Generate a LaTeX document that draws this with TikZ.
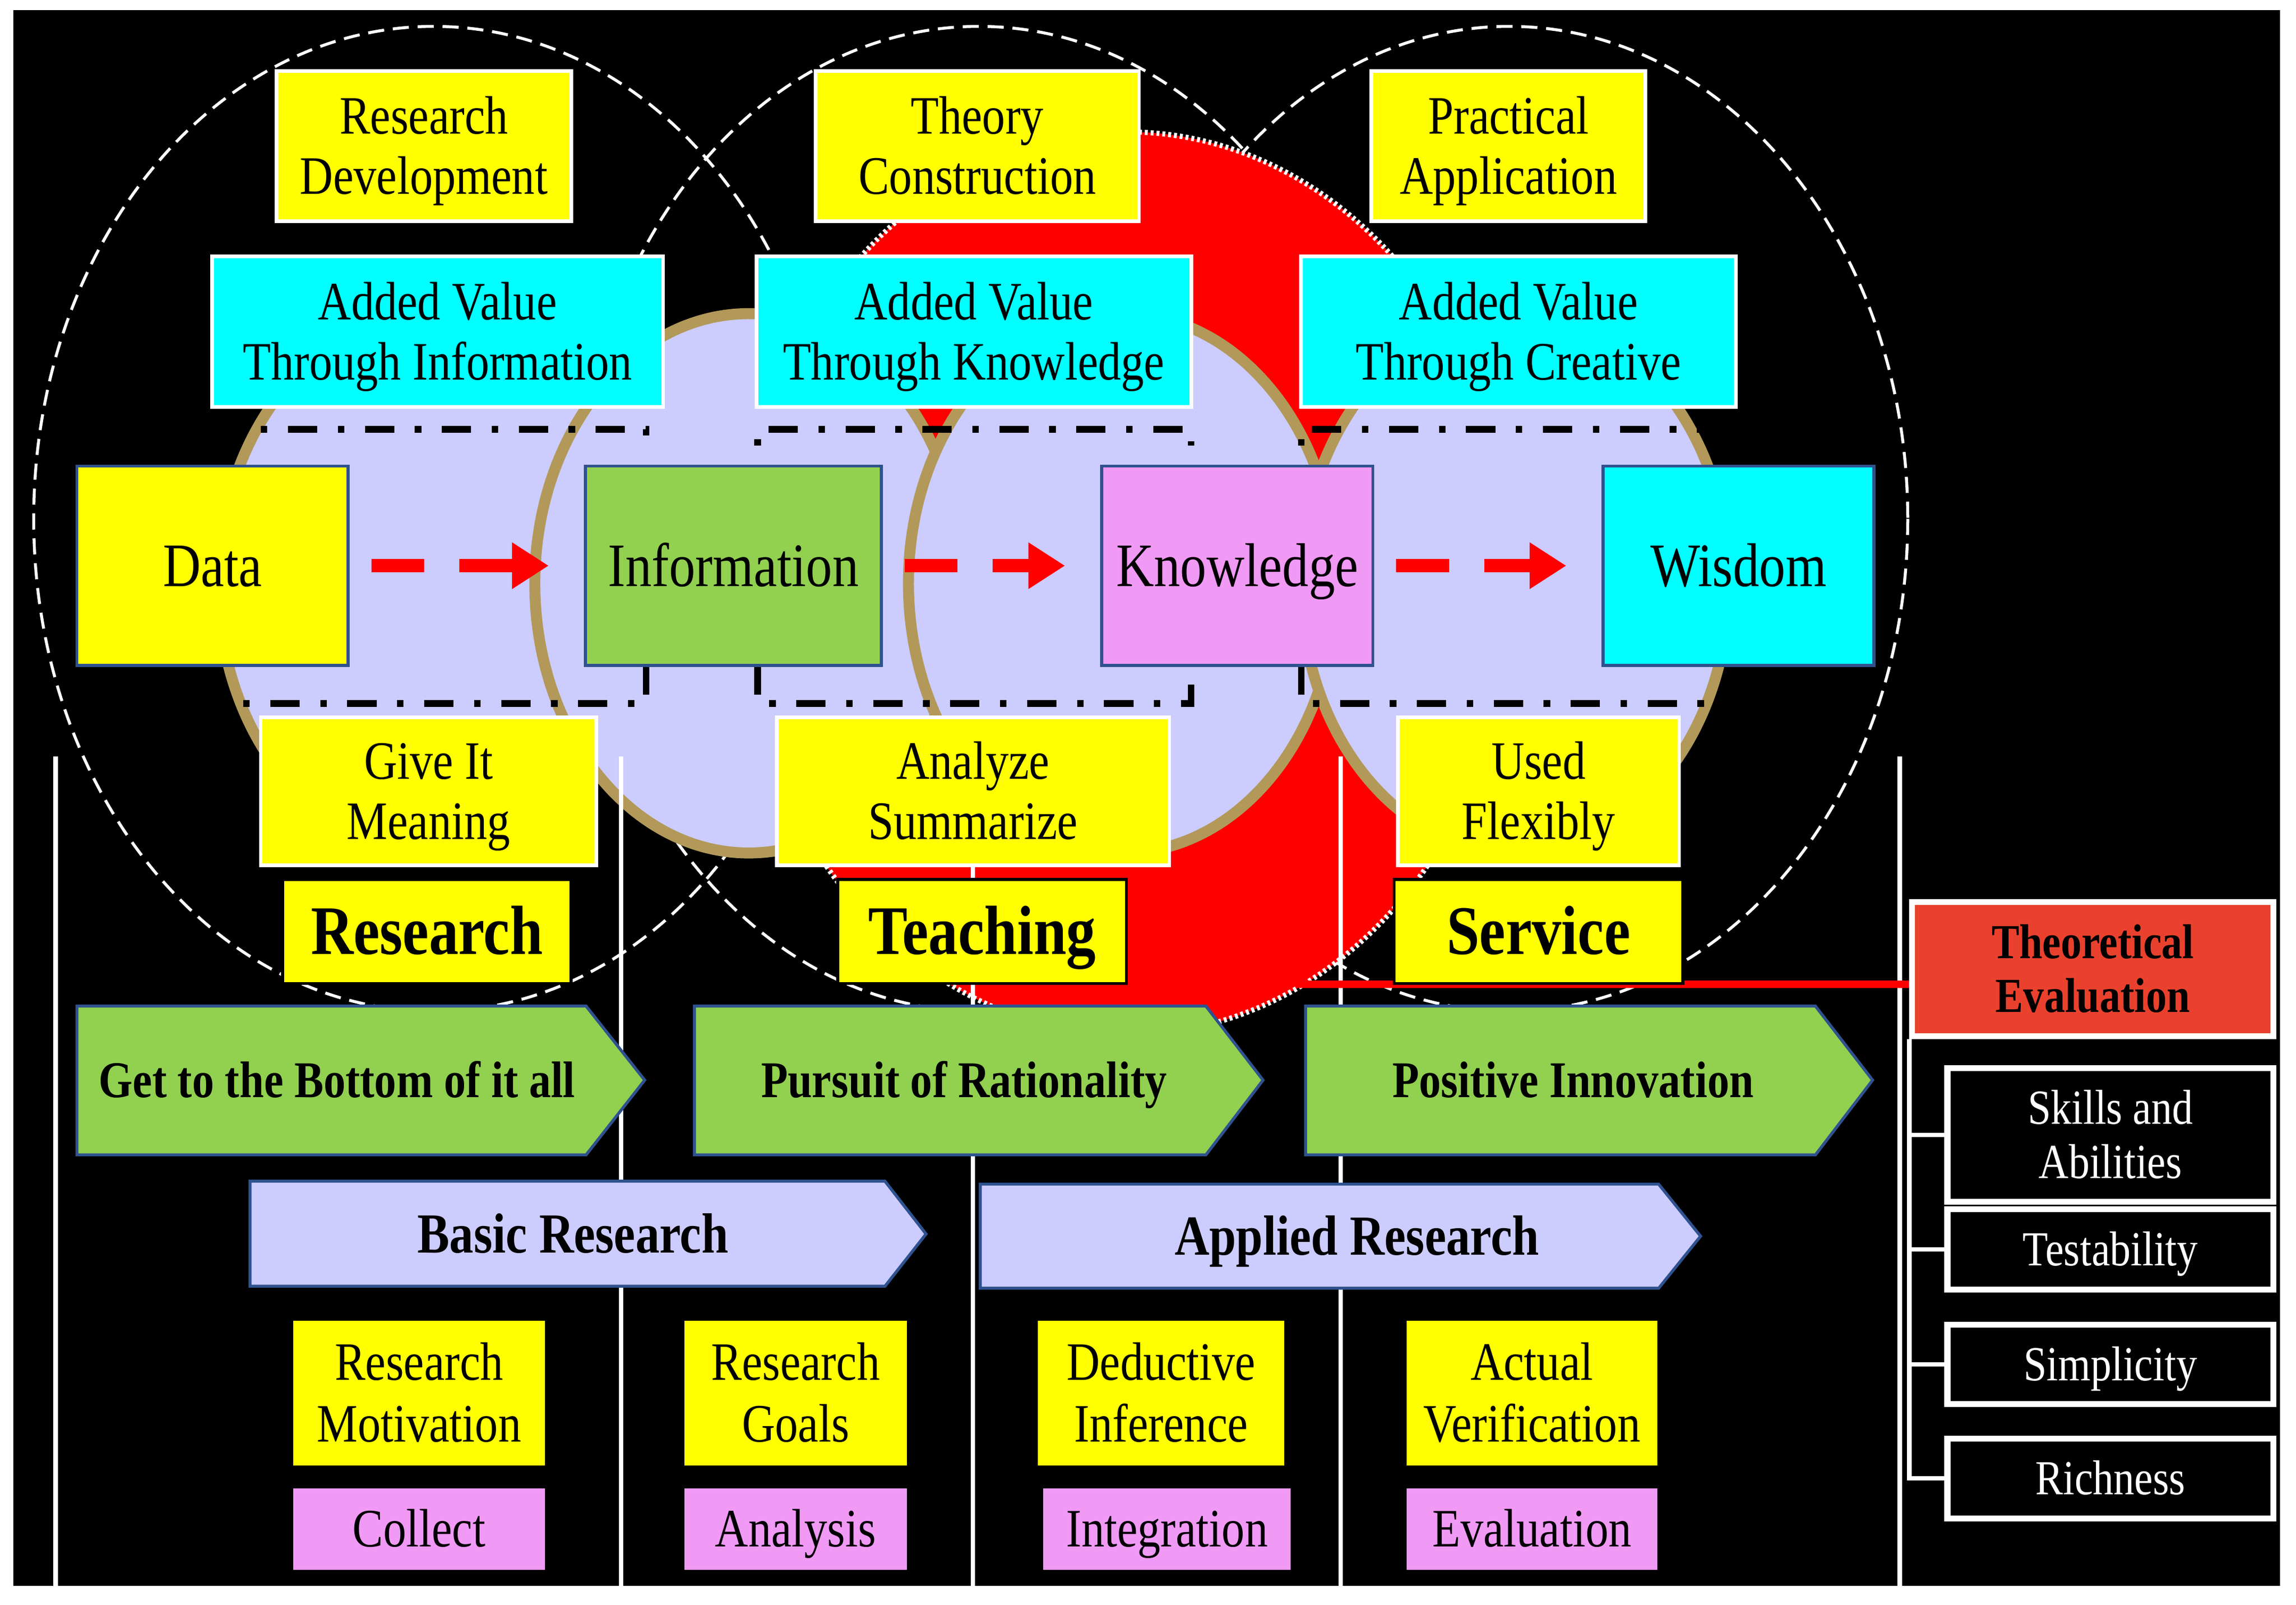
\documentclass[tikz,border=0pt]{standalone}
\usepackage{fontspec}
\setmainfont{Liberation Serif}[FakeStretch=0.85]
\usetikzlibrary{arrows.meta}

\begin{document}
\begin{tikzpicture}
		[x=0.1mm,y=-0.1mm,
		%Styles
		white box/.style={draw=white,line width=0.25mm,inner sep=0pt,align=center,text height=18.65pt,text depth=0pt,font=\fontsize{10.5}{11.7}\selectfont},
		chain node/.style={draw=boxblue,line width=0.2mm,inner sep=0pt,minimum width=18.5mm,minimum height=13.6mm,text height=7.94pt,text depth=0pt,font=\fontsize{12}{14}\selectfont},
		role box/.style={draw=black,fill=lemon,line width=0.2mm,inner sep=0pt,minimum width=19.7mm,minimum height=7.1mm,text height=8.94pt,text depth=0pt,font=\fontsize{13.5}{15}\selectfont\bfseries},
		plain box/.style={inner sep=0pt,align=center,text height=18.85pt,text depth=0pt,font=\fontsize{10.5}{11.9}\selectfont},
		tag box/.style={inner sep=0pt,fill=orchid,minimum height=5.55mm,text height=6.95pt,text depth=0pt,font=\fontsize{10.5}{12}\selectfont},
		criterion box/.style={draw=white,fill=black,text=white,line width=0.4mm,inner sep=0pt,align=center,minimum width=22.25mm,text height=6.29pt,text depth=0pt,font=\fontsize{9.5}{10.6}\selectfont},
		flow arrow/.style={-{Triangle[length=2.5mm,width=3mm]},red,line width=0.9mm,dash pattern=on 3.6mm off 2.4mm,shorten <=1.5mm,shorten >=2.4mm},
		bracket line/.style={line width=0.45mm,dash pattern=on 0.45mm off 1.4mm on 2mm off 1.4mm},
		tan ring/.style={draw=ringtan,fill=lavender,line width=0.75mm},
		circle line/.style={white,line width=0.2mm,dash pattern=on 1.1mm off 0.6mm},
		column line/.style={white,line width=0.3mm},
		green arrow/.style={draw=boxblue,fill=leaf,line width=0.2mm},
		research arrow/.style={draw=boxblue,fill=lavender,line width=0.2mm},
		arrow text/.style={inner sep=0pt,text height=6.62pt,text depth=0pt,font=\fontsize{10}{12}\selectfont\bfseries},
		big arrow text/.style={inner sep=0pt,text height=7.28pt,text depth=0pt,font=\fontsize{11}{13}\selectfont\bfseries}
		]
		
		%Colors
		\definecolor{lemon}{RGB}{255,255,0}
		\definecolor{aqua}{RGB}{0,255,255}
		\definecolor{boxblue}{RGB}{47,82,143}
		\definecolor{leaf}{RGB}{146,208,80}
		\definecolor{lavender}{RGB}{204,204,255}
		\definecolor{ringtan}{RGB}{178,153,90}
		\definecolor{orchid}{RGB}{240,153,245}
		\definecolor{evalred}{RGB}{233,65,45}
		
		%The graphic
		\fill[white] (0,0) rectangle (1567,1094.8);
		\fill[black] (9,7) rectangle (1556,1082);
		\useasboundingbox (0,0) rectangle (1567,1094.8);
		
		\draw[circle line] (296,354) ellipse (273 and 336);
		\draw[circle line] (668,354) ellipse (273 and 336);
		\draw[circle line] (1030,354) ellipse (272 and 336);
		
		\fill[red] (769,398) ellipse (263 and 308);
		\draw[white,line width=0.35mm,dash pattern=on 0.2mm off 0.2mm] (769,398) ellipse (263 and 308);
		
		\draw[tan ring] (295,398) ellipse (146 and 184);
		\draw[tan ring] (511,398) ellipse (146 and 184);
		\draw[tan ring] (766,398) ellipse (146 and 184);
		\draw[tan ring] (1034,398) ellipse (146 and 184);
		
		\draw[column line] (38,516) -- (38,1082) (424,516) -- (424,1082) (664,516) -- (664,1082)
			(915,516) -- (915,1082) (1296.5,516) -- (1296.5,1082);
		
		\draw[bracket line] (178,293) -- (441,293) -- (441,304);
		\draw[bracket line] (517,304) -- (517,293) -- (813,293) -- (813,304);
		\draw[bracket line] (888,304) -- (888,293) -- (1165,293);
		\draw[bracket line,dash phase=1.85mm] (441,454) -- (441,480) -- (159,480);
		\draw[bracket line,dash phase=1.85mm] (517,454) -- (517,480) -- (813,480) -- (813,454);
		\draw[bracket line,dash phase=1.85mm] (888,454) -- (888,480) -- (1175,480);
		
		\node[white box,fill=lemon,minimum width=20.15mm,minimum height=10.24mm] (T1) at (289.3,99.6) {Research\\Development};
		\node[white box,fill=lemon,minimum width=22.06mm,minimum height=10.24mm] (T2) at (667,99.6) {Theory\\Construction};
		\node[white box,fill=lemon,minimum width=18.7mm,minimum height=10.24mm] (T3) at (1029.5,99.6) {Practical\\Application};
		
		\node[white box,fill=aqua,minimum width=30.8mm,minimum height=10.26mm] (V1) at (298.6,226.3) {Added Value\\Through Information};
		\node[white box,fill=aqua,minimum width=29.67mm,minimum height=10.26mm] (V2) at (664.6,226.3) {Added Value\\Through Knowledge};
		\node[white box,fill=aqua,minimum width=29.66mm,minimum height=10.26mm] (V3) at (1036.3,226.3) {Added Value\\Through Creative};
		
		\node[chain node,fill=lemon] (C1) at (145,386) {Data};
		\node[chain node,fill=leaf,minimum width=20.2mm] (C2) at (500.5,386) {Information};
		\node[chain node,fill=orchid] (C3) at (844.4,386) {Knowledge};
		\node[chain node,fill=aqua] (C4) at (1186.5,386) {Wisdom};
		
		\path[flow arrow]
			(C1)	edge	(C2)
			(C2)	edge	(C3)
			(C3)	edge	(C4);
		
		\node[white box,fill=lemon,minimum width=22.9mm,minimum height=10.1mm] (M1) at (292.5,540) {Give It\\Meaning};
		\node[white box,fill=lemon,minimum width=26.8mm,minimum height=10.1mm] (M2) at (664,540) {Analyze\\Summarize};
		\node[white box,fill=lemon,minimum width=19.2mm,minimum height=10.1mm] (M3) at (1050,540) {Used\\Flexibly};
		
		\node[white box,fill=evalred,line width=0.4mm,minimum width=24.65mm,minimum height=9.14mm,text height=16.79pt,font=\fontsize{9.5}{10.5}\selectfont\bfseries] (E0) at (1428.3,661.3) {Theoretical\\Evaluation};
		\coordinate (S0) at (884,671.5);
		\draw[red,line width=0.5mm] (S0) -- (S0 -| E0.west);
		
		\node[role box] (R1) at (291.3,635.5) {Research};
		\node[role box] (R2) at (670.3,635.5) {Teaching};
		\node[role box] (R3) at (1050,635.5) {Service};
		
		\draw[green arrow] (52.5,686.5) -- (400,686.5) -- (440,737) -- (400,788) -- (52.5,788) -- cycle;
		\node[arrow text] (G1) at (230,737) {Get to the Bottom of it all};
		\draw[green arrow] (474,686.5) -- (823,686.5) -- (862,737) -- (823,788) -- (474,788) -- cycle;
		\node[arrow text] (G2) at (658,737) {Pursuit of Rationality};
		\draw[green arrow] (891,686.5) -- (1239,686.5) -- (1278,737) -- (1239,788) -- (891,788) -- cycle;
		\node[arrow text] (G3) at (1073.6,737) {Positive Innovation};
		
		\draw[research arrow] (170.7,806) -- (604,806) -- (632,842) -- (604,877.6) -- (170.7,877.6) -- cycle;
		\node[big arrow text] (B1) at (391,842) {Basic Research};
		\draw[research arrow] (669,808) -- (1132,808) -- (1160.6,843.5) -- (1132,879) -- (669,879) -- cycle;
		\node[big arrow text] (B2) at (926,843.5) {Applied Research};
		
		\node[plain box,fill=lemon,minimum width=17.2mm,minimum height=9.9mm] (Y1) at (286,950.5) {Research\\Motivation};
		\node[plain box,fill=lemon,minimum width=15.2mm,minimum height=9.9mm] (Y2) at (543,950.5) {Research\\Goals};
		\node[plain box,fill=lemon,minimum width=16.83mm,minimum height=9.9mm] (Y3) at (792.5,950.5) {Deductive\\Inference};
		\node[plain box,fill=lemon,minimum width=17.1mm,minimum height=9.9mm] (Y4) at (1045.5,950.5) {Actual\\Verification};
		
		\node[tag box,minimum width=17.2mm] (P1) at (286,1043.3) {Collect};
		\node[tag box,minimum width=15.2mm] (P2) at (543,1043.3) {Analysis};
		\node[tag box,minimum width=16.9mm] (P3) at (796.5,1043.3) {Integration};
		\node[tag box,minimum width=17.1mm] (P4) at (1045.5,1043.3) {Evaluation};
		
		\node[criterion box,minimum height=9.13mm,text height=16.89pt] (E1) at (1440.3,774.4) {Skills and\\Abilities};
		\node[criterion box,minimum height=5.5mm] (E2) at (1440.3,852.5) {Testability};
		\node[criterion box,minimum height=5.4mm] (E3) at (1440.3,931) {Simplicity};
		\node[criterion box,minimum height=5.45mm] (E4) at (1440.3,1008.8) {Richness};
		
		\draw[column line] (E0.south west) |- (E4.west);
		\draw[column line] (E0.south west |- E1.west) -- (E1.west);
		\draw[column line] (E0.south west |- E2.west) -- (E2.west);
		\draw[column line] (E0.south west |- E3.west) -- (E3.west);
	\end{tikzpicture}
\end{document}
